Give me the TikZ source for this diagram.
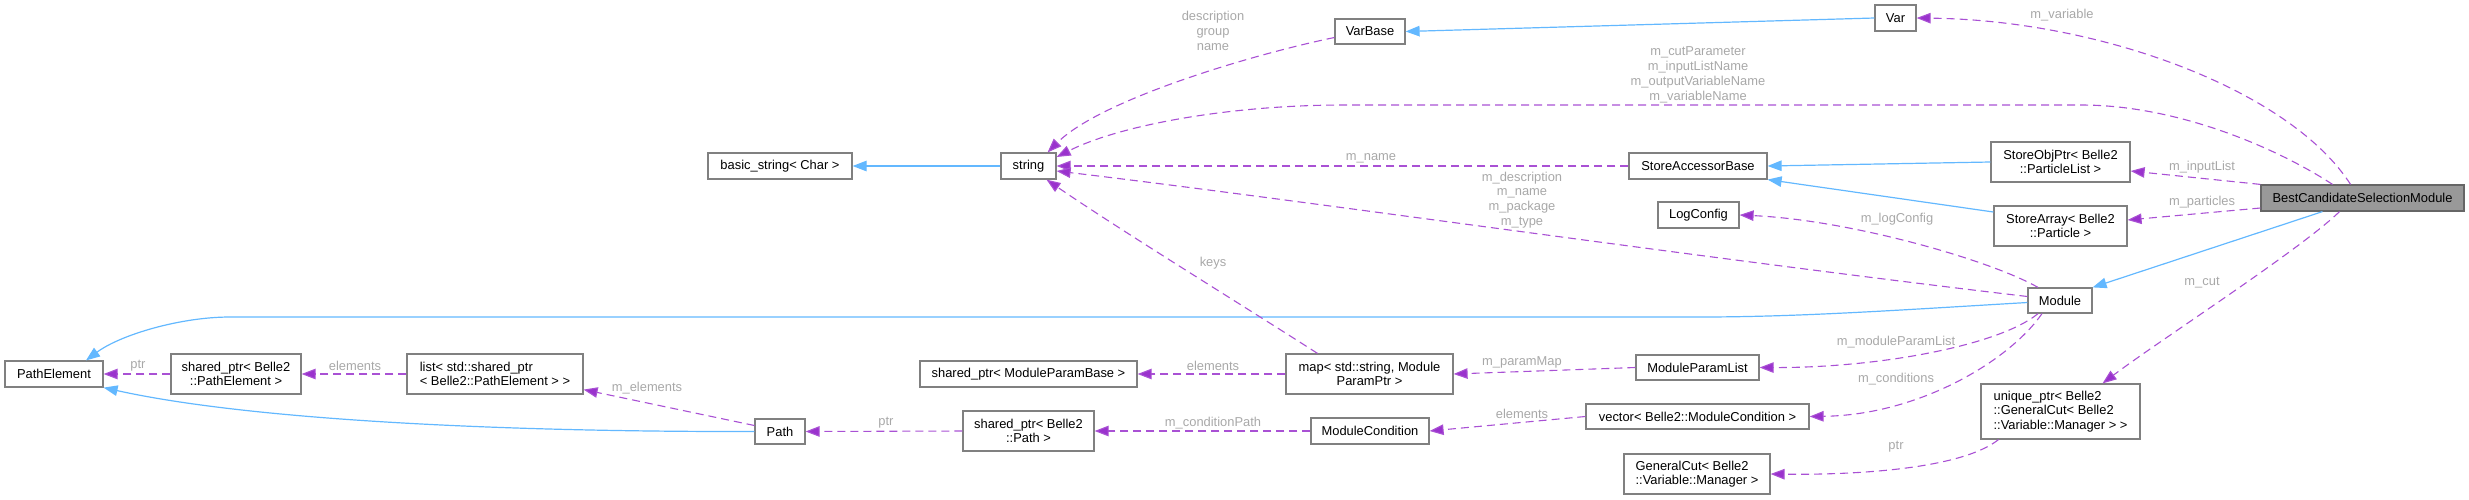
\documentclass[tikz,border=0pt]{standalone}
\usepackage{fontspec}
\setmainfont{Liberation Sans}
\usetikzlibrary{arrows.meta}
\definecolor{edgeblue}{HTML}{63B8FF}
\definecolor{edgepurple}{HTML}{9A32CD}
\definecolor{boxgray}{HTML}{808080}
\definecolor{labelgray}{HTML}{A8A8A8}
\definecolor{focusfill}{HTML}{999999}
\definecolor{focusline}{HTML}{666666}
\begin{document}
\begin{tikzpicture}[x=1pt,y=-1pt,
  cls/.style={draw=boxgray,line width=1.2pt,fill=white,inner sep=2pt,
    minimum height=26pt,align=center,font=\fontsize{12.9pt}{14.6pt}\selectfont},
  lbl/.style={text=labelgray,inner sep=0pt,align=center,font=\fontsize{12.9pt}{14.8pt}\selectfont},
  inh/.style={draw=edgeblue,line width=1.2pt,-{Triangle[length=14pt,width=10.5pt]}},
  use/.style={draw=edgepurple!85,line width=1.1pt,dash pattern=on 8pt off 5pt,
    -{Triangle[length=14pt,width=10.5pt,fill=edgepurple]}}]
\useasboundingbox (0,0) rectangle (2469,499);
% classes
\node[cls,minimum width=41pt] (var) at (1895.5,18) {Var};
\node[cls,minimum width=70pt,minimum height=25pt] (varbase) at (1370,31.5) {VarBase};
\node[cls,minimum width=144pt] (basicstr) at (780,166) {basic\_string< Char >};
\node[cls,minimum width=55pt] (str) at (1028.5,166) {string};
\node[cls,minimum width=138pt] (sab) at (1698,166) {StoreAccessorBase};
\node[cls,minimum width=81pt] (logcfg) at (1698.5,215) {LogConfig};
\node[cls,minimum width=139pt,minimum height=40pt] (sop) at (2060.5,162) {StoreObjPtr< Belle2\\::ParticleList >};
\node[cls,minimum width=133pt,minimum height=40pt] (sarr) at (2060.5,226) {StoreArray< Belle2\\::Particle >};
\node[cls,fill=focusfill,draw=focusline,minimum width=203pt] (bcsm) at (2362.5,198) {BestCandidateSelectionModule};
\node[cls,minimum width=64pt,minimum height=25pt] (module) at (2060,300.5) {Module};
\node[cls,align=left,minimum width=159pt,minimum height=55pt] (uptr) at (2060.5,411.5) {unique\_ptr< Belle2\\::GeneralCut< Belle2\\::Variable::Manager > >};
\node[cls,align=left,minimum width=146pt,minimum height=40pt] (gcut) at (1697,474) {GeneralCut< Belle2\\::Variable::Manager >};
\node[cls,minimum width=223pt,minimum height=25pt] (vec) at (1697.5,416.5) {vector< Belle2::ModuleCondition >};
\node[cls,minimum width=123pt,minimum height=25pt] (mplist) at (1697.5,367.5) {ModuleParamList};
\node[cls,minimum width=118pt] (mcond) at (1370,431) {ModuleCondition};
\node[cls,minimum width=167pt,minimum height=40pt] (pmap) at (1369.5,374) {map< std::string, Module\\ParamPtr >};
\node[cls,minimum width=217pt] (spmpb) at (1028.5,374) {shared\_ptr< ModuleParamBase >};
\node[cls,minimum width=131pt,minimum height=40pt] (sppath) at (1028.5,431) {shared\_ptr< Belle2\\::Path >};
\node[cls,minimum width=50pt,minimum height=25pt] (path) at (780,431.5) {Path};
\node[cls,align=left,minimum width=176pt,minimum height=40pt] (plist) at (495,374) {list< std::shared\_ptr\\< Belle2::PathElement > >};
\node[cls,minimum width=130pt,minimum height=40pt] (sppe) at (236,374) {shared\_ptr< Belle2\\::PathElement >};
\node[cls,minimum width=98pt] (pathel) at (54,374) {PathElement};
% inheritance
\draw[inh] (var.west) -- (varbase.east);
\draw[inh] (str.west) -- (basicstr.east);
\draw[inh] (sop.west) -- (sab.east);
\draw[inh] ([yshift=14pt]sarr.west) -- (sab.south east);
\draw[inh] ([xshift=-40pt]bcsm.south) -- (module.north east);
\draw[inh] ([yshift=-2pt]module.west) .. controls (1900,310) and (1800,317) .. (1700,317)
  -- (230,317) .. controls (180,317) and (120,335) .. ([xshift=32pt]pathel.north);
\draw[inh] (path.west) .. controls (500,432) and (250,420) .. (pathel.south east);
% members
\draw[use] ([yshift=-6pt]varbase.west) .. controls (1250,55) and (1100,100) .. ([xshift=-9pt]str.north east);
\draw[use] ([xshift=-30pt]bcsm.north) .. controls (2280,150) and (2180,105) .. (2081,105)
  -- (1344,105) .. controls (1230,105) and (1120,125) .. ([yshift=9pt]str.east);
\draw[use] ([xshift=-12pt]bcsm.north) .. controls (2290,90) and (2100,20) .. (var.east);
\draw[use] (sab.west) -- (str.east);
\draw[use] ([yshift=4pt]module.west) .. controls (1700,258) and (1300,200) .. ([yshift=-5pt]str.east);
\draw[use] ([xshift=-22pt]module.north) .. controls (1990,260) and (1850,220) .. (logcfg.east);
\draw[use] (bcsm.north west) -- ([yshift=-9pt]sop.east);
\draw[use] ([yshift=-10pt]bcsm.west) -- ([yshift=6pt]sarr.east);
\draw[use] ([xshift=-23pt]bcsm.south) .. controls (2300,250) and (2160,340) .. ([xshift=42pt]uptr.north);
\draw[use] ([xshift=-22pt]module.south) .. controls (2000,345) and (1880,368) .. (mplist.east);
\draw[use] ([xshift=-18pt]module.south) .. controls (2010,360) and (1920,415) .. (vec.east);
\draw[use] ([xshift=-52pt]pmap.north) .. controls (1250,310) and (1120,230) .. ([xshift=18pt]str.south);
\draw[use] (pmap.west) -- (spmpb.east);
\draw[use] (mplist.west) -- (pmap.east);
\draw[use] (vec.west) -- (mcond.east);
\draw[use] (mcond.west) -- (sppath.east);
\draw[use] (sppath.west) -- (path.east);
\draw[use] ([yshift=6pt]path.west) -- ([yshift=5pt]plist.south east);
\draw[use] (plist.west) -- (sppe.east);
\draw[use] (sppe.west) -- (pathel.east);
\draw[use] ([xshift=-62pt]uptr.south) .. controls (1960,470) and (1850,475) .. (gcut.east);
% labels
\node[lbl] (lvb) at (1213,31) {description\\group\\name};
\node[lbl] (lstr) at (1698,75) {m\_cutParameter\\m\_inputListName\\m\_outputVariableName\\m\_variableName};
\node[lbl] (lvar) at (2062,15) {m\_variable};
\node[lbl] (lsab) at (1371,158) {m\_name};
\node[lbl] (lmod) at (1522,200) {m\_description\\m\_name\\m\_package\\m\_type};
\node[lbl] (llog) at (1897,219) {m\_logConfig};
\node[lbl] (lsop) at (2202,167) {m\_inputList};
\node[lbl] (lsarr) at (2202,202) {m\_particles};
\node[lbl] (lcut) at (2202,283) {m\_cut};
\node[lbl] (lkeys) at (1213,263) {keys};
\node[lbl] (lmpl) at (1896,342) {m\_moduleParamList};
\node[lbl] (lcond) at (1896,379) {m\_conditions};
\node[lbl] (lel1) at (1213,366) {elements};
\node[lbl] (lpmap) at (1522,362) {m\_paramMap};
\node[lbl] (lel2) at (1522,414) {elements};
\node[lbl] (lcpath) at (1213,423) {m\_conditionPath};
\node[lbl] (lptr1) at (1896,447) {ptr};
\node[lbl] (lptr2) at (886,423) {ptr};
\node[lbl] (lelem) at (647,388) {m\_elements};
\node[lbl] (lel3) at (355,366) {elements};
\node[lbl] (lptr3) at (138,366) {ptr};
\end{tikzpicture}
\end{document}
